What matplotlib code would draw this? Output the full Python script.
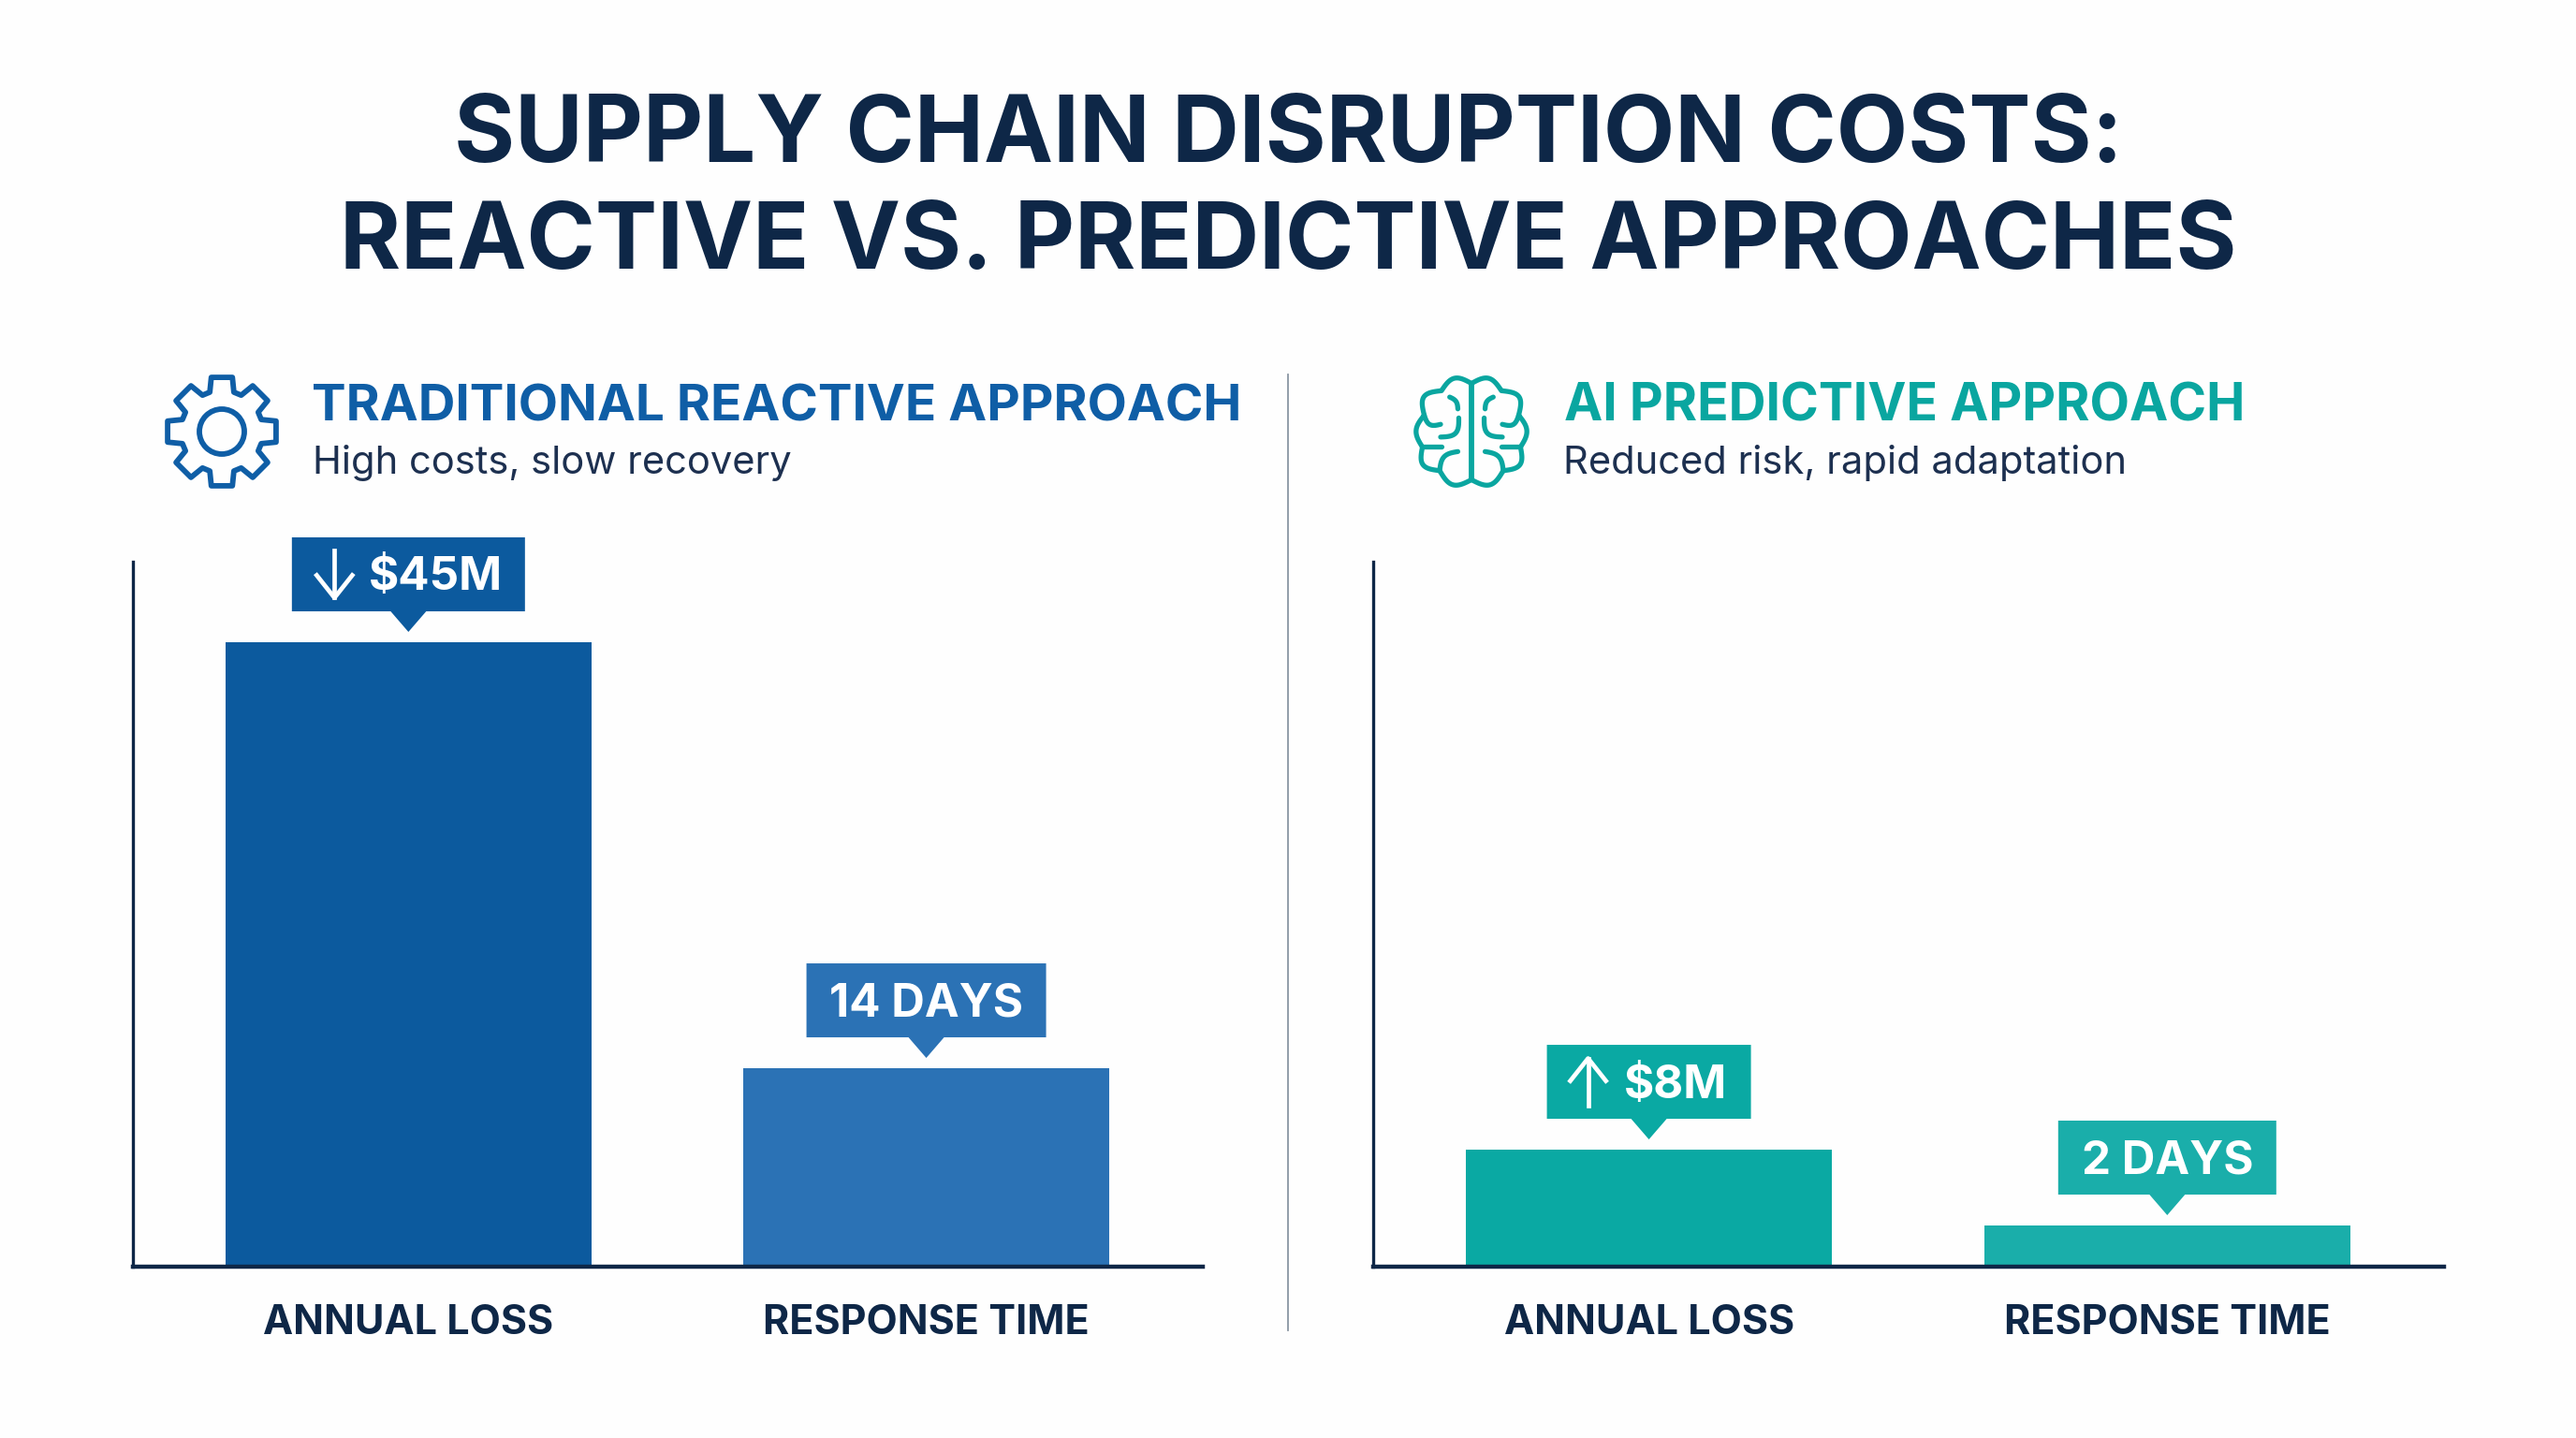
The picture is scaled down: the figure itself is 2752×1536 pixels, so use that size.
import numpy as np
import matplotlib
matplotlib.use("Agg")
import matplotlib.pyplot as plt
from matplotlib.lines import Line2D
from matplotlib.patches import Polygon, Circle
from matplotlib.transforms import IdentityTransform

# values
categories = ["ANNUAL LOSS", "RESPONSE TIME"]
reactive_values = [45, 14.3]
predictive_values = [8.43, 2.97]
reactive_labels = ["$45M", "14 DAYS"]
predictive_labels = ["$8M", "2 DAYS"]
reactive_colors = ["#0c5a9e", "#2b72b5"]
predictive_colors = ["#0aa9a3", "#1aaeaa"]

title_lines = ["SUPPLY CHAIN DISRUPTION COSTS:", "REACTIVE VS. PREDICTIVE APPROACHES"]

W, H = 2752, 1536
NAVY = "#0e2747"
BLUE = "#0f5ea6"
TEAL = "#0aa6a0"
plt.rcParams["font.family"] = ["Inter", "DejaVu Sans"]

fig = plt.figure(figsize=(W / 100, H / 100), dpi=100, facecolor="#fefefe")
ident = IdentityTransform()


def ftext(x, y, s, **kw):
    # x, y in picture pixels, y from the top
    return fig.text(x / W, 1 - y / H, s, **kw)


def make_axes(x0, x1, values, colors):
    top, base = 600, 1353
    ax = fig.add_axes([x0 / W, 1 - base / H, (x1 - x0) / W, (base - top) / H])
    ax.set_facecolor("none")
    ax.bar([0, 1], values, width=0.706, color=colors, zorder=2)
    ax.set_xlim(-0.532, 1.534)
    ax.set_ylim(0, 50.8)
    ax.set_xticks([0, 1])
    ax.set_xticklabels(categories, fontsize=31, fontweight="bold", color=NAVY)
    ax.set_yticks([])
    ax.tick_params(axis="x", length=0, pad=29)
    ax.spines["top"].set_visible(False)
    ax.spines["right"].set_visible(False)
    ax.spines["left"].set_color(NAVY)
    ax.spines["left"].set_linewidth(2.4)
    ax.spines["bottom"].set_color(NAVY)
    ax.spines["bottom"].set_linewidth(3.2)
    ax.spines["bottom"].set_zorder(3)
    return ax


def callout(ax, i, val, label, color, box_w, arrow=None, arrow_dx=0, text_dx=0):
    cx, cy = ax.transData.transform((i, val))
    y0 = cy + 33
    y1 = y0 + 79
    tip = cy + 11
    pts = [(cx - box_w / 2, y1), (cx + box_w / 2, y1), (cx + box_w / 2, y0),
           (cx + 19, y0), (cx, tip), (cx - 19, y0), (cx - box_w / 2, y0)]
    fig.add_artist(Polygon(pts, closed=True, fc=color, ec="none", transform=ident))
    fig.text((cx + text_dx) / W, ((y0 + y1) / 2 + 1) / H, label, color="white",
             fontsize=35.5, fontweight="bold", ha="center", va="center_baseline")
    if arrow is not None:
        ax_x = cx + arrow_dx
        ym = (y0 + y1) / 2
        if arrow == "down":
            tail, head, sign = ym + 25, ym - 25, 1
        else:
            tail, head, sign = ym - 25, ym + 25, -1
        fig.add_artist(Line2D([ax_x, ax_x], [tail, head], color="white", lw=3.4, transform=ident))
        fig.add_artist(Line2D([ax_x - 19, ax_x, ax_x + 19],
                              [head + sign * 24, head, head + sign * 24],
                              color="white", lw=3.4, transform=ident))


def gear_icon(cx, cy, color):
    pts = []
    for a in np.arange(90, 450, 45):
        for r, d in [(44, -17), (59, -11), (59, 11), (44, 17)]:
            t = np.radians(a + d)
            pts.append((cx + r * np.cos(t), H - cy + r * np.sin(t)))
    fig.add_artist(Polygon(pts, closed=True, fc="none", ec=color, lw=4.2,
                           joinstyle="round", transform=ident))
    fig.add_artist(Circle((cx, H - cy), 24, fc="none", ec=color, lw=4.2, transform=ident))


def arc_pts(p0, p1, bulge, n=24):
    # arc from p0 to p1 bulging to the left of the direction of travel
    p0, p1 = np.array(p0, float), np.array(p1, float)
    d = p1 - p0
    normal = np.array([-d[1], d[0]]) / np.hypot(*d)
    s = np.linspace(0, 1, n)
    return [tuple(p0 + d * t + normal * bulge * np.sin(np.pi * t)) for t in s]


def brain_icon(cx, cy, color):
    k = 0.97
    outline = [((0, 53), (33, 45), 10), ((33, 45), (52, 18), 12),
               ((52, 18), (54, -17), 8), ((54, -17), (35, -43), 11),
               ((35, -43), (0, -53), 11)]
    inner = [((15, 25), (24, 38), 3), ((52, 18), (34, 8), 6),
             ((14, 15), (34, -6), -9), ((54, -17), (33, -17), 0),
             ((15, -22), (35, -43), 7)]
    for side in [1, -1]:
        pts = []
        for p0, p1, b in outline:
            pts += arc_pts(p0, p1, b)
        xy = [(cx + side * k * x, H - cy + k * y) for x, y in pts]
        fig.add_artist(Line2D(*zip(*xy), color=color, lw=3.8, solid_capstyle="round",
                              solid_joinstyle="round", transform=ident))
        for p0, p1, b in inner:
            xy = [(cx + side * k * x, H - cy + k * y) for x, y in arc_pts(p0, p1, b)]
            fig.add_artist(Line2D(*zip(*xy), color=color, lw=3.8, solid_capstyle="round",
                                  transform=ident))
    fig.add_artist(Line2D([cx, cx], [H - cy + 51, H - cy - 51], color=color, lw=4.2, transform=ident))


# title
ftext(1376, 173, title_lines[0], fontsize=71.5, fontweight="bold", color=NAVY, ha="center", va="baseline")
ftext(1376, 287, title_lines[1], fontsize=71.5, fontweight="bold", color=NAVY, ha="center", va="baseline")

# panel headings
ftext(333, 450, "TRADITIONAL REACTIVE APPROACH", fontsize=39.5, fontweight="bold", color=BLUE, va="baseline")
ftext(334, 506, "High costs, slow recovery", fontsize=30, color="#1d3050", va="baseline")
ftext(1671, 450, "AI PREDICTIVE APPROACH", fontsize=39.8, fontweight="bold", color=TEAL, va="baseline")
ftext(1670, 506, "Reduced risk, rapid adaptation", fontsize=30, color="#1d3050", va="baseline")

gear_icon(237, 461, BLUE)
brain_icon(1572, 461, TEAL)

# divider between the panels
fig.add_artist(Line2D([1376, 1376], [H - 400, H - 1421], color="#8a96a3", lw=1.3, transform=ident))

ax1 = make_axes(142, 1285, reactive_values, reactive_colors)
ax2 = make_axes(1467, 2611, predictive_values, predictive_colors)

callout(ax1, 0, reactive_values[0], reactive_labels[0], reactive_colors[0], 249, "down", -79, 29)
callout(ax1, 1, reactive_values[1], reactive_labels[1], reactive_colors[1], 256)
callout(ax2, 0, predictive_values[0], predictive_labels[0], predictive_colors[0], 218, "up", -65, 28)
callout(ax2, 1, predictive_values[1], predictive_labels[1], predictive_colors[1], 233)

fig.savefig("out.png", dpi=100, facecolor=fig.get_facecolor())
plt.close()
